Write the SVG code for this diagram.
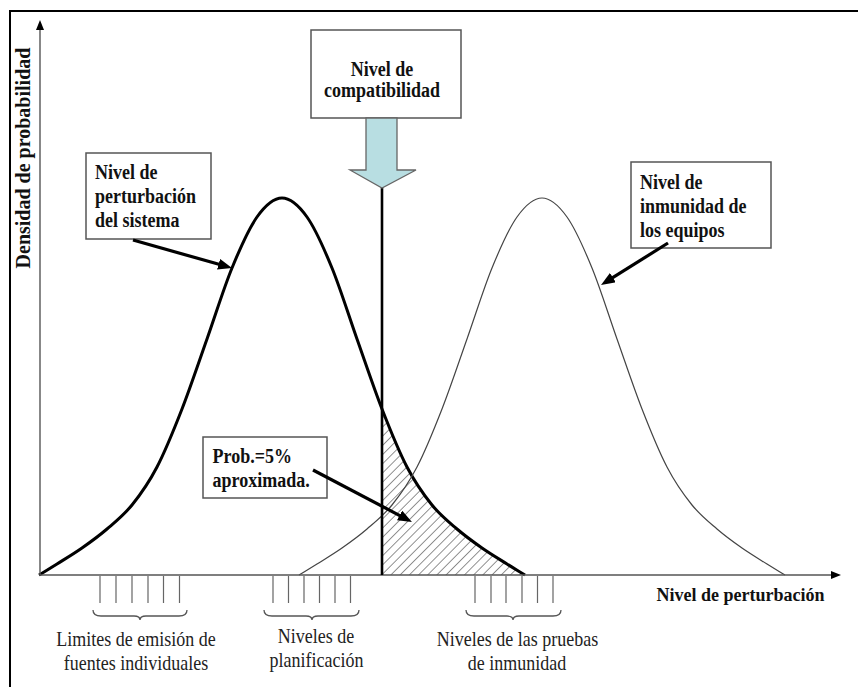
<svg xmlns="http://www.w3.org/2000/svg" xmlns:xlink="http://www.w3.org/1999/xlink" width="858" height="687" viewBox="0 0 858 687">
<style>
.bold{font-family:"Liberation Serif","Times New Roman",serif;font-weight:bold;font-size:18px;fill:#111}
.reg{font-family:"Liberation Serif","Times New Roman",serif;font-size:18px;fill:#222}
.box{fill:#fff;stroke:#555;stroke-width:1.5}
.arrow{stroke:#000;stroke-width:3.2;fill:none;marker-end:url(#ah)}
.axis{stroke:#555;stroke-width:1.4;fill:none;marker-end:url(#axah)}
.tick{stroke:#666;stroke-width:1.2}
.brace{stroke:#555;stroke-width:1.3;fill:none}
.curveBold{stroke:#000;stroke-width:3;fill:none}
.curveThin{stroke:#444;stroke-width:1.2;fill:none}
</style>
<defs>
<marker id="ah" viewBox="0 0 14 11" refX="4" refY="5.5" markerWidth="14" markerHeight="11" markerUnits="userSpaceOnUse" orient="auto"><path d="M0,0 L14,5.5 L0,11 z" fill="#000"/></marker>
<marker id="axah" viewBox="0 0 10 8" refX="2" refY="4" markerWidth="10" markerHeight="8" markerUnits="userSpaceOnUse" orient="auto"><path d="M0,0 L10,4 L0,8 z" fill="#000"/></marker>
<path id="bell" d="M-243,575 C-237,571.33 -232.17,568.5 -225,564 C-217.83,559.5 -208.33,553.83 -200,548 C-191.67,542.17 -183.33,536.17 -175,529 C-166.67,521.83 -158.33,515.33 -150,505 C-141.67,494.67 -133.33,483 -125,467 C-116.67,451 -108.33,430.33 -100,409 C-91.67,387.67 -83.33,362.5 -75,339 C-66.67,315.5 -58.33,288.33 -50,268 C-41.67,247.67 -33.33,228.67 -25,217 C-16.67,205.33 -8.33,198 0,198 C8.33,198 16.67,205.33 25,217 C33.33,228.67 41.67,247.67 50,268 C58.33,288.33 66.67,315.5 75,339 C83.33,362.5 91.67,387.67 100,409 C108.33,430.33 116.67,451 125,467 C133.33,483 141.67,494.67 150,505 C158.33,515.33 166.67,521.83 175,529 C183.33,536.17 191.67,542.17 200,548 C208.33,553.83 217.83,559.5 225,564 C232.17,568.5 237,571.33 243,575"/>
<pattern id="hatch" patternUnits="userSpaceOnUse" width="6.5" height="10" patternTransform="rotate(45)"><line x1="0" y1="0" x2="0" y2="10" stroke="#222" stroke-width="1"/></pattern>
<clipPath id="bellclip"><use xlink:href="#bell" transform="translate(282,0)"/></clipPath>
</defs>
<rect width="858" height="687" fill="#fff"/>
<g id="frame"><path d="M10,687 L10,11 L858,11" stroke="#000" stroke-width="2" fill="none"/></g>
<g id="hatched-area"><rect x="382" y="190" width="150" height="385" fill="url(#hatch)" clip-path="url(#bellclip)"/></g>
<g id="curves">
<use id="curve-perturbacion" xlink:href="#bell" transform="translate(282,0)" class="curveBold"/>
<use id="curve-inmunidad" xlink:href="#bell" transform="translate(542,0)" class="curveThin"/>
</g>
<g id="axes">
<line class="axis" x1="40" y1="575" x2="40" y2="28"/>
<line class="axis" x1="40" y1="575" x2="833" y2="575"/>
<text class="bold" transform="translate(30,158) rotate(-90)" text-anchor="middle" style="font-size:20px">Densidad de probabilidad</text>
<text class="bold" x="656.5" y="600.5">Nivel de perturbación</text>
</g>
<g id="compat-line"><line x1="382" y1="187" x2="382" y2="575" stroke="#000" stroke-width="2.6"/></g>
<g id="ticks">
<path class="tick" d="M100,576V603M116,576V603M132,576V603M148,576V603M163.5,576V603M179.5,576V603"/>
<path class="tick" d="M273,576V603M288.5,576V603M304,576V603M319.5,576V603M335,576V603M350.5,576V603"/>
<path class="tick" d="M475,576V603M491,576V603M506,576V603M522,576V603M537.5,576V603M553,576V603"/>
</g>
<g id="braces">
<path class="brace" d="M93,610 Q93,616 101,616 L134,616 Q140,616 140,620 Q140,616 146,616 L179,616 Q187,616 187,610"/>
<path class="brace" d="M264,610 Q264,616 272,616 L306,616 Q312,616 312,620 Q312,616 318,616 L351,616 Q359,616 359,610"/>
<path class="brace" d="M466,610 Q466,616 474,616 L507,616 Q513,616 513,620 Q513,616 519,616 L553,616 Q561,616 561,610"/>
</g>
<g id="label-limites">
<text class="reg" text-anchor="middle" transform="translate(136,646) scale(1,1.12)">Limites de emisión de</text>
<text class="reg" text-anchor="middle" transform="translate(136,669.5) scale(1,1.12)">fuentes individuales</text>
</g>
<g id="label-planificacion">
<text class="reg" text-anchor="middle" transform="translate(316,642.5) scale(1,1.12)">Niveles de</text>
<text class="reg" text-anchor="middle" transform="translate(316.5,666.5) scale(1,1.12)">planificación</text>
</g>
<g id="label-pruebas">
<text class="reg" text-anchor="middle" transform="translate(517.5,646) scale(1,1.12)">Niveles de las pruebas</text>
<text class="reg" text-anchor="middle" transform="translate(517,670) scale(1,1.12)">de inmunidad</text>
</g>
<g id="node-compatibilidad">
<rect class="box" x="311" y="30" width="150" height="88"/>
<text class="bold" text-anchor="middle" transform="translate(382,76) scale(1,1.17)">Nivel de</text>
<text class="bold" text-anchor="middle" transform="translate(382,97) scale(1,1.17)">compatibilidad</text>
<path d="M366,118 L397,118 L397,170 L416,170 L382,188 L350,170 L366,170 Z" fill="#b8dee2" stroke="#666" stroke-width="1.3"/>
</g>
<g id="node-perturbacion">
<rect class="box" x="86" y="153" width="125" height="86"/>
<text class="bold" transform="translate(95,179.3) scale(1,1.17)">Nivel de</text>
<text class="bold" transform="translate(95,203.3) scale(1,1.17)">perturbación</text>
<text class="bold" transform="translate(95,227.3) scale(1,1.17)">del sistema</text>
</g>
<g id="node-inmunidad">
<rect class="box" x="631" y="162" width="140" height="86"/>
<text class="bold" transform="translate(640,189) scale(1,1.17)">Nivel de</text>
<text class="bold" transform="translate(640,213) scale(1,1.17)">inmunidad de</text>
<text class="bold" transform="translate(640,237) scale(1,1.17)">los equipos</text>
</g>
<g id="node-prob">
<rect class="box" x="203" y="437" width="124" height="61"/>
<text class="bold" transform="translate(212.5,462.7) scale(1,1.17)">Prob.=5%</text>
<text class="bold" transform="translate(212.5,486.7) scale(1,1.17)">aproximada.</text>
</g>
<g id="connectors">
<line class="arrow" x1="133" y1="240" x2="222.4" y2="265.3"/>
<line class="arrow" x1="668" y1="243" x2="609.5" y2="279.7"/>
<line class="arrow" x1="313" y1="470" x2="403.1" y2="517.3"/>
</g>
</svg>
